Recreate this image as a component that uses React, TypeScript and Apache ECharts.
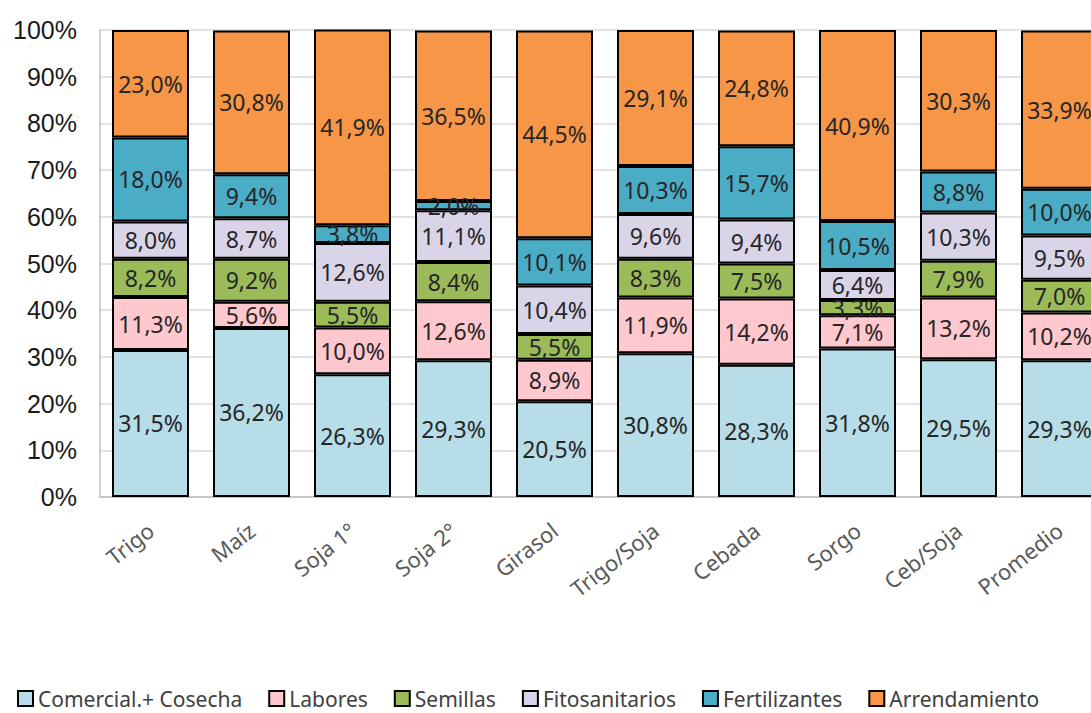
import React, { useEffect, useRef } from "react";
import * as echarts from "echarts";

const categories = ["Trigo", "Maíz", "Soja 1°", "Soja 2°", "Girasol", "Trigo/Soja", "Cebada", "Sorgo", "Ceb/Soja", "Promedio"];
const yTicks = [0, 10, 20, 30, 40, 50, 60, 70, 80, 90, 100];

const comercialCosecha = [31.5, 36.2, 26.3, 29.3, 20.5, 30.8, 28.3, 31.8, 29.5, 29.3];
const labores = [11.3, 5.6, 10.0, 12.6, 8.9, 11.9, 14.2, 7.1, 13.2, 10.2];
const semillas = [8.2, 9.2, 5.5, 8.4, 5.5, 8.3, 7.5, 3.3, 7.9, 7.0];
const fitosanitarios = [8.0, 8.7, 12.6, 11.1, 10.4, 9.6, 9.4, 6.4, 10.3, 9.5];
const fertilizantes = [18.0, 9.4, 3.8, 2.0, 10.1, 10.3, 15.7, 10.5, 8.8, 10.0];
const arrendamiento = [23.0, 30.8, 41.9, 36.5, 44.5, 29.1, 24.8, 40.9, 30.3, 33.9];

const seriesDefs = [
  { name: "Comercial.+ Cosecha", data: comercialCosecha, color: "#B7DDE8" },
  { name: "Labores", data: labores, color: "#FFC7CE" },
  { name: "Semillas", data: semillas, color: "#9BBB59" },
  { name: "Fitosanitarios", data: fitosanitarios, color: "#DAD4E9" },
  { name: "Fertilizantes", data: fertilizantes, color: "#4BACC6" },
  { name: "Arrendamiento", data: arrendamiento, color: "#F79646" },
];

const fmt = (v: number) => v.toFixed(1).replace(".", ",") + "%";

export default function App() {
  const ref = useRef<HTMLDivElement>(null);
  useEffect(() => {
    if (!ref.current) return;
    const chart = echarts.init(ref.current, null, { renderer: "svg" });
    chart.setOption({
      animation: false,
      backgroundColor: "#ffffff",
      grid: { left: 100, top: 30, right: 0, bottom: 216, containLabel: false },
      legend: {
        left: 12,
        top: 683,
        itemWidth: 15,
        itemHeight: 15,
        itemGap: 26,
        textStyle: { fontFamily: "Noto Sans", fontSize: 21, color: "#404040" },
        icon: "rect",
        itemStyle: { borderColor: "#000", borderWidth: 2 },
        data: seriesDefs.map((s) => s.name),
      },
      xAxis: {
        type: "category",
        data: categories,
        axisLine: { show: true, lineStyle: { color: "#BFBFBF", width: 1.5 } },
        axisTick: { show: false },
        axisLabel: {
          rotate: 38,
          margin: 30,
          fontFamily: "Noto Sans",
          fontSize: 22,
          color: "#595959",
          interval: 0,
        },
      },
      yAxis: {
        type: "value",
        min: 0,
        max: 100,
        interval: 10,
        axisLine: { show: true, lineStyle: { color: "#BFBFBF", width: 1.5 } },
        axisTick: { show: false },
        splitLine: { show: true, lineStyle: { color: "#D9D9D9", width: 1.5 } },
        axisLabel: {
          margin: 23,
          fontFamily: "Liberation Sans",
          fontSize: 25,
          color: "#1a1a1a",
          formatter: (v: number) => (yTicks.includes(v) ? v + "%" : ""),
        },
      },
      series: seriesDefs.map((s) => ({
        name: s.name,
        type: "bar",
        stack: "total",
        barWidth: 77,
        data: s.data,
        itemStyle: { color: s.color, borderColor: "#000", borderWidth: 2 },
        label: {
          show: true,
          position: "inside",
          fontFamily: "Noto Sans",
          fontSize: 23,
          color: "#262626",
          formatter: (p: any) => fmt(p.value),
        },
      })),
    });
    return () => chart.dispose();
  }, []);
  return (
    <div style={{ position: "absolute", left: 0, top: 0, width: 1091, height: 713, overflow: "hidden", background: "#fff" }}>
      <div ref={ref} style={{ width: 1110, height: 713 }} />
    </div>
  );
}
